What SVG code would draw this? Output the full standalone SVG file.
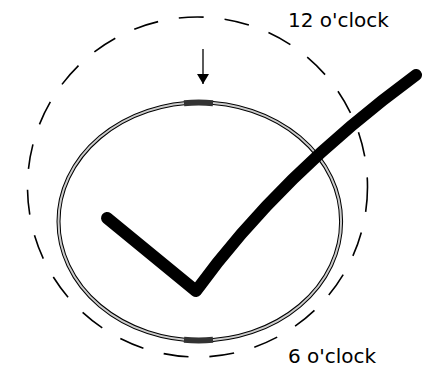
<svg xmlns="http://www.w3.org/2000/svg" width="427" height="374" viewBox="0 0 427 374">
<style>
.lbl{font-family:"DejaVu Sans",sans-serif;font-size:20px;fill:#000}
.seg{fill:none;stroke:#333;stroke-width:6}
</style>
<defs>
<marker id="ah" viewBox="0 0 10 12" refX="10" refY="6" markerWidth="10" markerHeight="12" markerUnits="userSpaceOnUse" orient="auto">
<path d="M0,0 L10,6 L0,12 Z" fill="#000"/>
</marker>
</defs>
<rect width="427" height="374" fill="#fff"/>
<g id="outer">
<circle cx="197.5" cy="187" r="170" fill="none" stroke="#000" stroke-width="1.6" stroke-dasharray="25 21"/>
</g>
<g id="ring">
<ellipse cx="199.8" cy="221.5" rx="141.3" ry="119" fill="none" stroke="#000" stroke-width="4"/>
<ellipse cx="199.8" cy="221.5" rx="141.3" ry="119" fill="none" stroke="#ccc" stroke-width="2"/>
<path class="seg" d="M184,103.2 Q199,102 213,103.2"/>
<path class="seg" d="M184,339.8 Q199,341 213,339.8"/>
</g>
<g id="connectors">
<line x1="203" y1="49" x2="203" y2="84" stroke="#000" stroke-width="1.3" marker-end="url(#ah)"/>
</g>
<g id="check">
<path d="M107,218 L196,291 Q280,175 416,75" fill="none" stroke="#000" stroke-width="12" stroke-linecap="round" stroke-linejoin="round"/>
</g>
<text class="lbl" x="288" y="27">12 o'clock</text>
<text class="lbl" x="288" y="363">6 o'clock</text>
</svg>
